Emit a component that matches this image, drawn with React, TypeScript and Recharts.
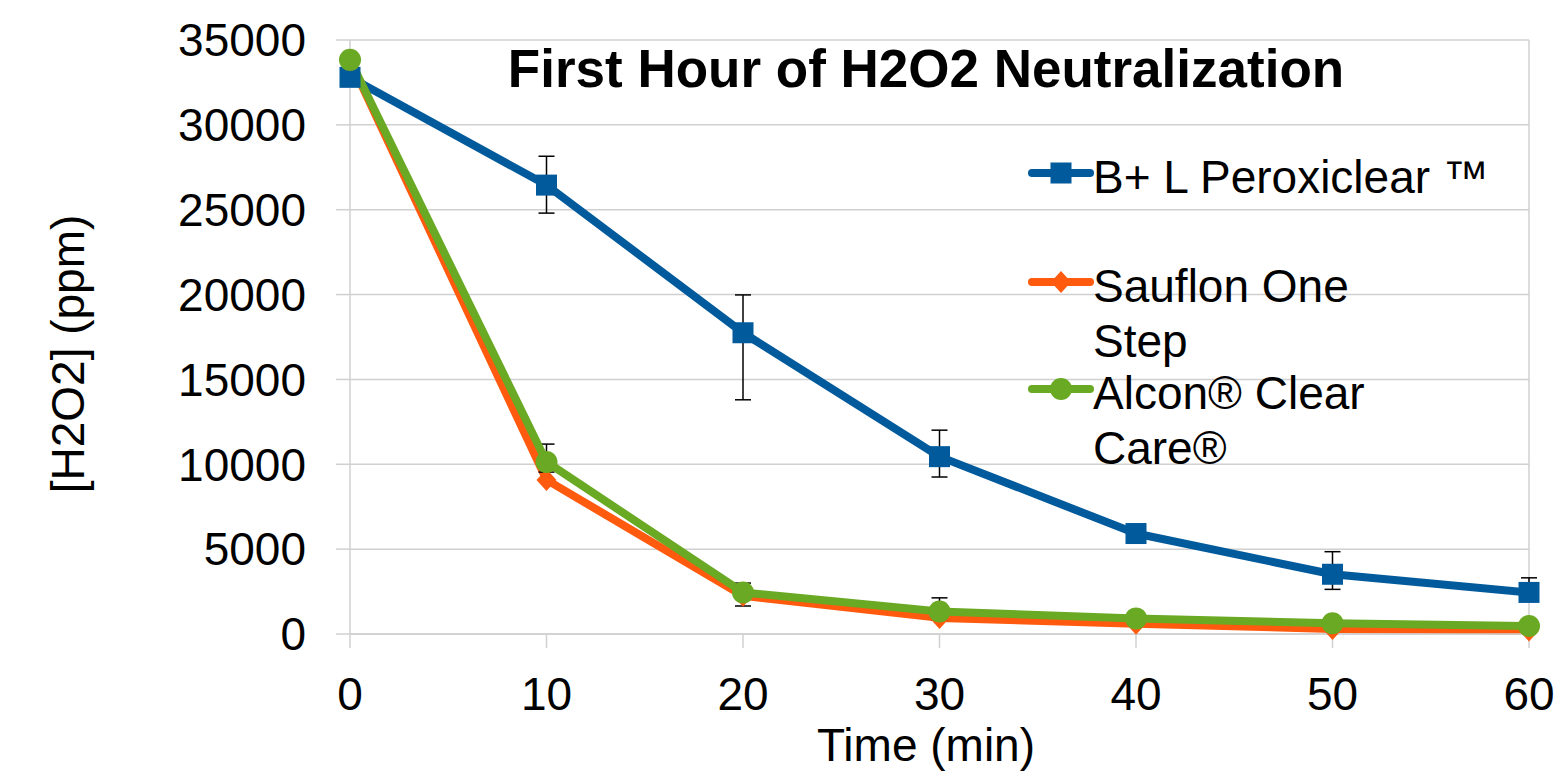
import {
  CartesianGrid,
  ErrorBar,
  Legend,
  Line,
  LineChart,
  ReferenceLine,
  XAxis,
  YAxis,
} from "recharts"

const minutes = [0, 10, 20, 30, 40, 50, 60]
const peroxiclear = [32800, 26450, 17750, 10450, 5920, 3520, 2450]
const peroxiclearErr = [[0, 0], [1650, 1700], [3950, 2230], [1200, 1560], [300, 300], [890, 1330], [500, 860]]
const sauflon = [33800, 9080, 2250, 950, 600, 300, 200]
const alcon = [33830, 10140, 2450, 1330, 920, 630, 470]
const alconErr = [[0, 0], [600, 1050], [800, 550], [500, 800], [200, 200], [150, 150], [100, 100]]
const xTicks = [0, 10, 20, 30, 40, 50, 60]
const yTicks = [0, 5000, 10000, 15000, 20000, 25000, 30000, 35000]
const seriesNames = ["B+ L Peroxiclear ™", "Sauflon One Step", "Alcon® Clear Care®"]
const legendLines = [["B+ L Peroxiclear ™"], ["Sauflon One", "Step"], ["Alcon® Clear", "Care®"]]

const BLUE = "#005a9c"
const ORANGE = "#ff5a0e"
const GREEN = "#6aa923"
const GRID = "#d0d0d0"
const FONT = "'Liberation Sans', Arial, sans-serif"

const chartData = minutes.map((m, i) => ({
  minute: m,
  peroxiclear: peroxiclear[i],
  peroxiclearErr: peroxiclearErr[i],
  sauflon: sauflon[i],
  alcon: alcon[i],
  alconErr: alconErr[i],
}))

function Marker({ kind, cx, cy, color }: { kind: number; cx: number; cy: number; color: string }) {
  if (kind === 0) return <rect x={cx - 10.5} y={cy - 10.5} width={21} height={21} fill={color} />
  if (kind === 1)
    return (
      <polygon
        points={`${cx},${cy - 11} ${cx + 10},${cy} ${cx},${cy + 11} ${cx - 10},${cy}`}
        fill={color}
      />
    )
  return <circle cx={cx} cy={cy} r={11} fill={color} />
}

function makeDot(kind: number, color: string) {
  return (props: any) => {
    const { cx, cy, index } = props
    if (cx == null || cy == null) return <g key={index} />
    return (
      <g key={index}>
        <Marker kind={kind} cx={cx} cy={cy} color={color} />
      </g>
    )
  }
}

// legend drawn as svg so the wrapped labels sit like the original
function LegendBox({ payload }: any) {
  const markerY = [33, 142, 249]
  const kinds: Record<string, number> = { peroxiclear: 0, sauflon: 1, alcon: 2 }
  return (
    <svg width={500} height={350} style={{ overflow: "visible" }}>
      {(payload || []).map((entry: any, i: number) => {
        const kind = kinds[entry.dataKey] ?? i
        const y = markerY[kind]
        return (
          <g key={entry.value}>
            <line x1={12} x2={70} y1={y} y2={y} stroke={entry.color} strokeWidth={8} strokeLinecap="round" />
            <Marker kind={kind} cx={41} cy={y} color={entry.color} />
            {legendLines[kind].map((txt, j) => (
              <text key={txt} x={73} y={y + 20 + j * 55} fontSize={46} fontFamily={FONT} fill="#000">
                {txt}
              </text>
            ))}
          </g>
        )
      })}
    </svg>
  )
}

export default function App() {
  return (
    <div style={{ position: "absolute", left: 0, top: 0, width: 1562, height: 773, background: "#fff" }}>
      <LineChart
        width={1562}
        height={773}
        data={chartData}
        margin={{ top: 40, right: 33, bottom: 0, left: 0 }}
      >
        <CartesianGrid vertical={false} stroke={GRID} strokeWidth={1.5} />
        <XAxis
          dataKey="minute"
          type="number"
          domain={[0, 60]}
          ticks={xTicks}
          height={139}
          tickSize={14}
          tickMargin={29}
          axisLine={{ stroke: GRID, strokeWidth: 1.5 }}
          tickLine={{ stroke: GRID, strokeWidth: 1.5 }}
          tick={{ fontSize: 46, fontFamily: FONT, fill: "#000" }}
        />
        <YAxis
          domain={[0, 35000]}
          ticks={yTicks}
          width={350}
          tickSize={14}
          tickMargin={30}
          axisLine={{ stroke: GRID, strokeWidth: 1.5 }}
          tickLine={{ stroke: GRID, strokeWidth: 1.5 }}
          tick={{ fontSize: 46, fontFamily: FONT, fill: "#000" }}
        />
        <ReferenceLine x={60} stroke={GRID} strokeWidth={1.5} />
        <Legend
          layout="horizontal"
          verticalAlign="middle"
          align="center"
          content={LegendBox}
          wrapperStyle={{ left: 1020, top: 140, width: 500, height: 350 }}
        />
        <Line
          type="linear"
          dataKey="peroxiclear"
          name={seriesNames[0]}
          stroke={BLUE}
          strokeWidth={8}
          strokeLinejoin="round"
          dot={makeDot(0, BLUE)}
          activeDot={false}
          isAnimationActive={false}
        >
          <ErrorBar dataKey="peroxiclearErr" direction="y" width={8} strokeWidth={1.5} stroke="#000" />
        </Line>
        <Line
          type="linear"
          dataKey="sauflon"
          name={seriesNames[1]}
          stroke={ORANGE}
          strokeWidth={8}
          strokeLinejoin="round"
          dot={makeDot(1, ORANGE)}
          activeDot={false}
          isAnimationActive={false}
        />
        <Line
          type="linear"
          dataKey="alcon"
          name={seriesNames[2]}
          stroke={GREEN}
          strokeWidth={8}
          strokeLinejoin="round"
          dot={makeDot(2, GREEN)}
          activeDot={false}
          isAnimationActive={false}
        >
          <ErrorBar dataKey="alconErr" direction="y" width={8} strokeWidth={1.5} stroke="#000" />
        </Line>
      </LineChart>
      <svg
        width={1562}
        height={773}
        style={{ position: "absolute", left: 0, top: 0, pointerEvents: "none" }}
      >
        <text x={926} y={87} textAnchor="middle" fontSize={53} fontWeight="bold" fontFamily={FONT}>
          First Hour of H2O2 Neutralization
        </text>
        <text x={926} y={761} textAnchor="middle" fontSize={46} fontFamily={FONT}>
          Time (min)
        </text>
        <text
          x={84}
          y={354}
          textAnchor="middle"
          fontSize={46}
          fontFamily={FONT}
          transform="rotate(-90 84 354)"
        >
          [H2O2] (ppm)
        </text>
      </svg>
    </div>
  )
}
